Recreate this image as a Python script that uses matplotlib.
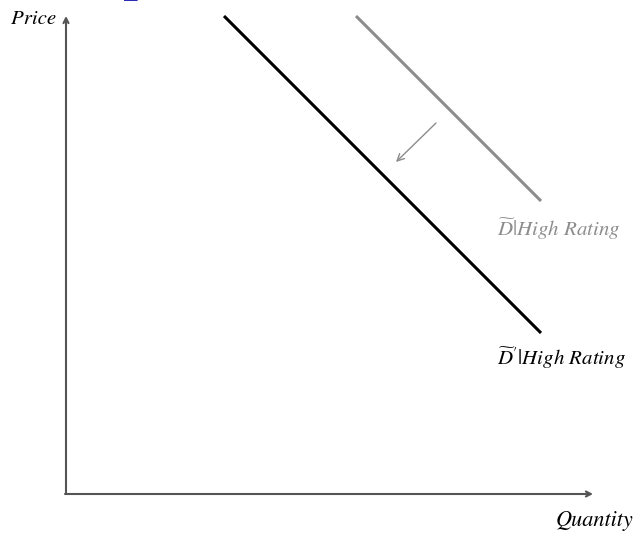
import matplotlib.pyplot as plt

plt.rcParams["mathtext.fontset"] = "stix"
plt.rcParams["font.family"] = "STIXGeneral"

# axis corner and ends (pixel-like data units, y grows downward)
origin = (66, 494)
x_end = 593
y_end = 16

# demand curves: (x0, y0, x1, y1)
demand_high = [356, 16, 541, 201]
demand_shift = [224, 16, 541, 333]
shift_arrow = [436, 123, 396, 162]

labels = ["Price", "Quantity", r"$\widetilde{D}|$High Rating",
          r"$\widetilde{D}^{\prime}|$High Rating"]

fig = plt.figure(figsize=(6.37, 5.33), dpi=100)
ax = fig.add_axes([0, 0, 1, 1])
ax.set_xlim(0, 637)
ax.set_ylim(533, 0)
ax.axis("off")

axis_col = "#555555"
head = "->,head_length=0.35,head_width=0.18"
ax.annotate("", xy=(origin[0], y_end), xytext=(origin[0], origin[1]),
            arrowprops=dict(arrowstyle=head, color=axis_col, lw=1.5,
                            shrinkA=0, shrinkB=0))
ax.annotate("", xy=(x_end, origin[1]), xytext=(origin[0] - 1, origin[1]),
            arrowprops=dict(arrowstyle=head, color=axis_col, lw=1.5,
                            shrinkA=0, shrinkB=0))

ax.plot(demand_high[::2], demand_high[1::2], color="#8c8c8c", lw=2.2,
        solid_capstyle="butt")
ax.plot(demand_shift[::2], demand_shift[1::2], color="black", lw=2.2,
        solid_capstyle="butt")
ax.annotate("", xy=(shift_arrow[2], shift_arrow[3]),
            xytext=(shift_arrow[0], shift_arrow[1]),
            arrowprops=dict(arrowstyle="->,head_length=0.5,head_width=0.25",
                            color="#8c8c8c", lw=1.0, shrinkA=0, shrinkB=0))

ax.text(56, 19, labels[0], ha="right", va="center", fontsize=15,
        style="italic")
ax.text(633, 521, labels[1], ha="right", va="center", fontsize=16,
        style="italic")
ax.text(497, 229, labels[2], ha="left", va="center", fontsize=15,
        style="italic", color="#8c8c8c")
ax.text(497, 358, labels[3], ha="left", va="center", fontsize=15,
        style="italic", color="black")

# cut-off slide title remnant
ax.text(137, -9, "p", ha="center", va="baseline", fontsize=36,
        color="#2b2bb8", fontweight="bold", clip_on=True)

fig.savefig("out.png", dpi=100)
